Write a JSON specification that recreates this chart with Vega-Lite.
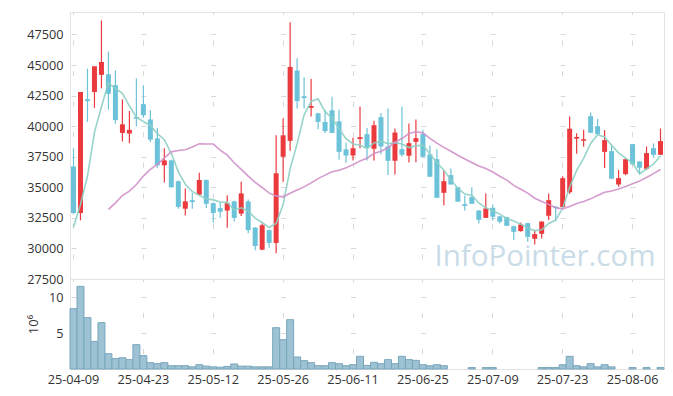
{
  "$schema": "https://vega.github.io/schema/vega-lite/v6.json",
  "padding": {"left": 26, "top": 11, "right": 5, "bottom": 5},
  "background": "white",
  "spacing": 0,
  "bounds": "flush",
  "config": {
    "font": "Open Sans",
    "view": {"stroke": "#e3e3e3"},
    "concat": {"spacing": 0},
    "axis": {"domain": false, "ticks": false, "labelOverlap": false, "labelFont": "Open Sans", "labelFontSize": 12.7, "labelColor": "#333333", "gridColor": "#d8d8d8", "gridWidth": 1, "titleFont": "Open Sans", "titleFontWeight": "normal", "titleColor": "#333333", "titleFontSize": 13},
    "axisY": {"labelOverlap": false},
    "axisQuantitative": {"labelOverlap": false}
  },
  "datasets": {
    "k": [
      {"d":"25-04-09","o":36700,"h":38200,"l":32800,"c":32900,"v":8.38,"m5":31750,"m20":null},
      {"d":"25-04-10","o":32900,"h":42800,"l":32300,"c":42800,"v":11.48,"m5":33600,"m20":null},
      {"d":"25-04-11","o":42200,"h":44700,"l":40350,"c":42050,"v":7.13,"m5":35900,"m20":null},
      {"d":"25-04-14","o":42800,"h":44900,"l":41500,"c":44900,"v":3.84,"m5":39500,"m20":null},
      {"d":"25-04-15","o":44200,"h":48650,"l":43100,"c":45250,"v":6.44,"m5":41590,"m20":null},
      {"d":"25-04-16","o":44250,"h":46100,"l":41350,"c":42650,"v":2.13,"m5":43540,"m20":33190},
      {"d":"25-04-17","o":43350,"h":44550,"l":40200,"c":40500,"v":1.44,"m5":43080,"m20":33730},
      {"d":"25-04-18","o":39450,"h":42200,"l":38750,"c":40150,"v":1.57,"m5":42690,"m20":34330},
      {"d":"25-04-21","o":39400,"h":41250,"l":38600,"c":39700,"v":1.30,"m5":41650,"m20":34690},
      {"d":"25-04-22","o":40750,"h":43900,"l":40000,"c":40620,"v":3.38,"m5":40730,"m20":35230},
      {"d":"25-04-23","o":41800,"h":43350,"l":40700,"c":40900,"v":1.85,"m5":40380,"m20":35920},
      {"d":"25-04-24","o":40550,"h":41300,"l":38700,"c":38900,"v":0.88,"m5":40060,"m20":36460},
      {"d":"25-04-25","o":39000,"h":39850,"l":36600,"c":36800,"v":0.74,"m5":39390,"m20":36870},
      {"d":"25-04-28","o":36800,"h":38200,"l":35400,"c":37200,"v":0.88,"m5":38890,"m20":37410},
      {"d":"25-04-29","o":37200,"h":37250,"l":35000,"c":35000,"v":0.46,"m5":37760,"m20":37900},
      {"d":"25-04-30","o":35500,"h":35550,"l":33250,"c":33400,"v":0.46,"m5":36260,"m20":38010},
      {"d":"25-05-02","o":33250,"h":34900,"l":32700,"c":33850,"v":0.46,"m5":35250,"m20":38070},
      {"d":"25-05-07","o":33950,"h":34550,"l":33250,"c":33800,"v":0.3,"m5":34660,"m20":38290},
      {"d":"25-05-08","o":34400,"h":36200,"l":34350,"c":35600,"v":0.6,"m5":34340,"m20":38560},
      {"d":"25-05-09","o":35600,"h":35650,"l":33300,"c":33650,"v":0.4,"m5":34070,"m20":38538},
      {"d":"25-05-12","o":33700,"h":33750,"l":32100,"c":32900,"v":0.3,"m5":33970,"m20":38538},
      {"d":"25-05-13","o":33300,"h":33800,"l":32500,"c":33000,"v":0.25,"m5":33800,"m20":38048},
      {"d":"25-05-14","o":33100,"h":34350,"l":31700,"c":33700,"v":0.35,"m5":33770,"m20":37628},
      {"d":"25-05-15","o":33850,"h":33900,"l":32200,"c":32500,"v":0.7,"m5":33150,"m20":37008},
      {"d":"25-05-16","o":32850,"h":35450,"l":32650,"c":34500,"v":0.4,"m5":33320,"m20":36470},
      {"d":"25-05-19","o":33850,"h":34000,"l":31250,"c":31500,"v":0.4,"m5":33040,"m20":35913},
      {"d":"25-05-20","o":31700,"h":31750,"l":29850,"c":30200,"v":0.3,"m5":32480,"m20":35398},
      {"d":"25-05-21","o":29900,"h":32050,"l":29850,"c":31900,"v":0.3,"m5":32120,"m20":34985},
      {"d":"25-05-22","o":31500,"h":31550,"l":30050,"c":30450,"v":0.3,"m5":31710,"m20":34523},
      {"d":"25-05-23","o":30450,"h":39250,"l":29600,"c":36150,"v":5.74,"m5":32040,"m20":34298},
      {"d":"25-05-26","o":37500,"h":40650,"l":35450,"c":39250,"v":4.07,"m5":33590,"m20":34215},
      {"d":"25-05-27","o":38800,"h":48500,"l":38000,"c":44850,"v":6.85,"m5":36520,"m20":34513},
      {"d":"25-05-28","o":44550,"h":45550,"l":41450,"c":42050,"v":1.67,"m5":38550,"m20":34775},
      {"d":"25-05-29","o":42450,"h":44000,"l":41450,"c":42300,"v":1.16,"m5":40930,"m20":35033},
      {"d":"25-05-30","o":41500,"h":43850,"l":40800,"c":41650,"v":0.88,"m5":42020,"m20":35363},
      {"d":"25-06-02","o":41050,"h":41100,"l":39750,"c":40350,"v":0.46,"m5":42240,"m20":35710},
      {"d":"25-06-04","o":40350,"h":41350,"l":39450,"c":39600,"v":0.46,"m5":41190,"m20":35998},
      {"d":"25-06-05","o":41300,"h":42400,"l":39450,"c":39450,"v":0.88,"m5":40670,"m20":36278},
      {"d":"25-06-09","o":40400,"h":41350,"l":37250,"c":37900,"v":0.74,"m5":39780,"m20":36393},
      {"d":"25-06-10","o":38100,"h":38650,"l":37000,"c":37600,"v":0.46,"m5":38980,"m20":36590},
      {"d":"25-06-11","o":37600,"h":39050,"l":37200,"c":38200,"v":0.6,"m5":38550,"m20":36855},
      {"d":"25-06-12","o":38950,"h":41600,"l":38200,"c":39100,"v":1.76,"m5":38440,"m20":37158},
      {"d":"25-06-13","o":39350,"h":39850,"l":37200,"c":38200,"v":0.5,"m5":38190,"m20":37383},
      {"d":"25-06-16","o":38150,"h":40450,"l":37200,"c":40080,"v":0.93,"m5":38626,"m20":37762},
      {"d":"25-06-17","o":40740,"h":41070,"l":37700,"c":38340,"v":0.74,"m5":38774,"m20":37954},
      {"d":"25-06-18","o":38340,"h":41450,"l":36000,"c":37170,"v":1.3,"m5":38568,"m20":38237},
      {"d":"25-06-19","o":37170,"h":39820,"l":36050,"c":39480,"v":0.74,"m5":38654,"m20":38701},
      {"d":"25-06-20","o":38120,"h":41620,"l":37500,"c":37660,"v":1.76,"m5":38546,"m20":38989},
      {"d":"25-06-23","o":37580,"h":40220,"l":37030,"c":38610,"v":1.3,"m5":38252,"m20":39397},
      {"d":"25-06-24","o":38720,"h":40540,"l":37060,"c":39020,"v":1.2,"m5":38388,"m20":39541},
      {"d":"25-06-25","o":39350,"h":39700,"l":37450,"c":37500,"v":0.6,"m5":38454,"m20":39453},
      {"d":"25-06-26","o":37690,"h":38420,"l":35860,"c":35860,"v":0.46,"m5":37730,"m20":39004},
      {"d":"25-06-27","o":37300,"h":38120,"l":34140,"c":34140,"v":0.6,"m5":37026,"m20":38608},
      {"d":"25-06-30","o":34550,"h":36400,"l":33520,"c":35500,"v":0.46,"m5":36404,"m20":38266},
      {"d":"25-07-01","o":36000,"h":36540,"l":35230,"c":35230,"v":0,"m5":35646,"m20":37947},
      {"d":"25-07-02","o":35010,"h":35050,"l":33810,"c":33820,"v":0,"m5":34910,"m20":37621},
      {"d":"25-07-03","o":33620,"h":34330,"l":33100,"c":33480,"v":0,"m5":34446,"m20":37318},
      {"d":"25-07-04","o":34200,"h":35010,"l":33650,"c":33650,"v":0.2,"m5":34348,"m20":37028},
      {"d":"25-07-07","o":33100,"h":33150,"l":32040,"c":32340,"v":0,"m5":33716,"m20":36750},
      {"d":"25-07-08","o":32500,"h":34500,"l":32500,"c":33270,"v":0.2,"m5":33324,"m20":36533},
      {"d":"25-07-09","o":33320,"h":33600,"l":32290,"c":32590,"v":0.2,"m5":33078,"m20":36253},
      {"d":"25-07-10","o":32620,"h":32650,"l":32040,"c":32180,"v":0,"m5":32806,"m20":35909},
      {"d":"25-07-11","o":32560,"h":32600,"l":31850,"c":31850,"v":0,"m5":32446,"m20":35592},
      {"d":"25-07-14","o":31820,"h":31850,"l":30680,"c":31360,"v":0,"m5":32250,"m20":35156},
      {"d":"25-07-15","o":31420,"h":32120,"l":31360,"c":31960,"v":0,"m5":31988,"m20":34837},
      {"d":"25-07-16","o":32070,"h":32100,"l":30540,"c":30950,"v":0,"m5":31660,"m20":34526},
      {"d":"25-07-17","o":30790,"h":31500,"l":30330,"c":31170,"v":0,"m5":31458,"m20":34110},
      {"d":"25-07-18","o":31200,"h":32200,"l":30820,"c":32200,"v":0.2,"m5":31528,"m20":33837},
      {"d":"25-07-21","o":32670,"h":34500,"l":32320,"c":33950,"v":0.2,"m5":32046,"m20":33604},
      {"d":"25-07-22","o":33420,"h":33450,"l":32230,"c":33300,"v":0.2,"m5":32324,"m20":33321},
      {"d":"25-07-23","o":33380,"h":35910,"l":33350,"c":35750,"v":0.6,"m5":33284,"m20":33233},
      {"d":"25-07-24","o":34600,"h":40800,"l":34470,"c":39790,"v":1.76,"m5":35008,"m20":33430},
      {"d":"25-07-25","o":38980,"h":39430,"l":37740,"c":39120,"v":0.46,"m5":36378,"m20":33675},
      {"d":"25-07-28","o":38800,"h":39700,"l":38310,"c":38930,"v":0.3,"m5":37360,"m20":33843},
      {"d":"25-07-29","o":40820,"h":41120,"l":39460,"c":39460,"v":0.74,"m5":38582,"m20":34055},
      {"d":"25-07-30","o":40000,"h":40580,"l":39350,"c":39350,"v":0.3,"m5":39302,"m20":34331},
      {"d":"25-07-31","o":37900,"h":39680,"l":36570,"c":38860,"v":0.6,"m5":39116,"m20":34597},
      {"d":"25-08-01","o":37960,"h":38500,"l":35700,"c":35700,"v":0.3,"m5":38446,"m20":34700},
      {"d":"25-08-04","o":35230,"h":36430,"l":35040,"c":35750,"v":0,"m5":37824,"m20":34870},
      {"d":"25-08-05","o":36080,"h":37410,"l":36000,"c":37300,"v":0,"m5":37392,"m20":35072},
      {"d":"25-08-06","o":38530,"h":38550,"l":36870,"c":36870,"v":0.2,"m5":36996,"m20":35286},
      {"d":"25-08-07","o":37110,"h":37150,"l":36130,"c":36600,"v":0,"m5":36088,"m20":35507},
      {"d":"25-08-08","o":36510,"h":38340,"l":36400,"c":37800,"v":0.2,"m5":36508,"m20":35804},
      {"d":"25-08-11","o":38200,"h":38590,"l":37410,"c":37660,"v":0,"m5":36890,"m20":36119},
      {"d":"25-08-12","o":37660,"h":39810,"l":37660,"c":38780,"v":0.2,"m5":37582,"m20":36460}
    ]
  },
  "vconcat": [
    {
      "width": 594,
      "height": 267,
      "data": {"name": "k"},
      "encoding": {
        "x": {
          "field": "d", "type": "ordinal", "sort": null,
          "scale": {"paddingInner": 0, "paddingOuter": 0, "domain": ["25-04-09","25-04-10","25-04-11","25-04-14","25-04-15","25-04-16","25-04-17","25-04-18","25-04-21","25-04-22","25-04-23","25-04-24","25-04-25","25-04-28","25-04-29","25-04-30","25-05-02","25-05-07","25-05-08","25-05-09","25-05-12","25-05-13","25-05-14","25-05-15","25-05-16","25-05-19","25-05-20","25-05-21","25-05-22","25-05-23","25-05-26","25-05-27","25-05-28","25-05-29","25-05-30","25-06-02","25-06-04","25-06-05","25-06-09","25-06-10","25-06-11","25-06-12","25-06-13","25-06-16","25-06-17","25-06-18","25-06-19","25-06-20","25-06-23","25-06-24","25-06-25","25-06-26","25-06-27","25-06-30","25-07-01","25-07-02","25-07-03","25-07-04","25-07-07","25-07-08","25-07-09","25-07-10","25-07-11","25-07-14","25-07-15","25-07-16","25-07-17","25-07-18","25-07-21","25-07-22","25-07-23","25-07-24","25-07-25","25-07-28","25-07-29","25-07-30","25-07-31","25-08-01","25-08-04","25-08-05","25-08-06","25-08-07","25-08-08","25-08-11","25-08-12"]},
          "axis": {
            "values": ["25-04-09","25-04-23","25-05-12","25-05-26","25-06-11","25-06-25","25-07-09","25-07-23","25-08-06"],
            "labels": false, "title": null, "grid": true, "bandPosition": 0.5,
            "labelPadding": 0, "minExtent": 0, "maxExtent": 0,
            "gridDash": [5, 25.56], "gridDashOffset": 2.5
          }
        }
      },
      "layer": [
        {
          "data": {"values": [{"label": "InfoPointer.com"}]},
          "mark": {"type": "text", "font": "Open Sans", "fontSize": 29.5, "color": "#c9dce7", "align": "right", "baseline": "alphabetic", "dx": 2},
          "encoding": {
            "x": {"datum": "25-08-11", "type": "ordinal"},
            "y": {"datum": 28550, "type": "quantitative", "title": null, "scale": {"domain": [27500, 49340], "nice": false, "zero": false},
              "axis": {"values": [27500,30000,32500,35000,37500,40000,42500,45000,47500], "format": "d", "labelOverlap": false, "labelPadding": 7, "grid": true, "gridDash": [5, 64.88], "gridDashOffset": 68.9}},
            "text": {"field": "label"}
          }
        },
        {
          "mark": {"type": "rule", "strokeWidth": 1.2},
          "encoding": {
            "y": {
              "field": "l", "type": "quantitative", "title": null,
              "axis": {"values": [27500,30000,32500,35000,37500,40000,42500,45000,47500], "format": "d", "labelOverlap": false, "labelPadding": 7, "grid": true, "gridDash": [5, 64.88], "gridDashOffset": 68.9}
            },
            "y2": {"field": "h"},
            "color": {"condition": {"test": "datum.c >= datum.o", "value": "#ea3a3e"}, "value": "#6cc2d9"}
          }
        },
        {
          "mark": {"type": "bar", "width": 5},
          "encoding": {
            "y": {"field": "o", "type": "quantitative", "title": null,
              "axis": {"values": [27500,30000,32500,35000,37500,40000,42500,45000,47500], "format": "d", "labelOverlap": false, "labelPadding": 7, "grid": true, "gridDash": [5, 64.88], "gridDashOffset": 68.9}},
            "y2": {"field": "c"},
            "color": {"condition": {"test": "datum.c >= datum.o", "value": "#ea3a3e"}, "value": "#6cc2d9"}
          }
        },
        {
          "mark": {"type": "line", "color": "#8ccfc3", "strokeWidth": 1.6, "opacity": 0.9},
          "encoding": {"y": {"field": "m5", "type": "quantitative", "title": null,
            "axis": {"values": [27500,30000,32500,35000,37500,40000,42500,45000,47500], "format": "d", "labelOverlap": false, "labelPadding": 7, "grid": true, "gridDash": [5, 64.88], "gridDashOffset": 68.9}}}
        },
        {
          "mark": {"type": "line", "color": "#d08fc9", "strokeWidth": 1.6, "opacity": 0.9},
          "encoding": {"y": {"field": "m20", "type": "quantitative", "title": null,
            "axis": {"values": [27500,30000,32500,35000,37500,40000,42500,45000,47500], "format": "d", "labelOverlap": false, "labelPadding": 7, "grid": true, "gridDash": [5, 64.88], "gridDashOffset": 68.9}}}
        }
      ]
    },
    {
      "width": 594,
      "height": 90,
      "data": {"name": "k"},
      "mark": {"type": "bar", "width": {"band": 1}, "color": "#9cc2d3", "stroke": "#7aa7bc", "strokeWidth": 1},
      "encoding": {
        "x": {
          "field": "d", "type": "ordinal", "sort": null,
          "scale": {"paddingInner": 0, "paddingOuter": 0},
          "axis": {
            "values": ["25-04-09","25-04-23","25-05-12","25-05-26","25-06-11","25-06-25","25-07-09","25-07-23","25-08-06"],
            "labelAngle": 0, "labelPadding": 4, "title": null, "grid": true, "bandPosition": 0.5,
            "gridDash": [5, 31], "gridDashOffset": 2.5
          }
        },
        "y": {
          "field": "v", "type": "quantitative", "title": "10⁶",
          "scale": {"domain": [0, 12.5], "nice": false},
          "axis": {"values": [5, 10], "labelPadding": 7, "titlePadding": 8, "grid": true, "gridDash": [5, 64.88], "gridDashOffset": 68.9}
        },
        "strokeOpacity": {"condition": {"test": "datum.v == 0", "value": 0}, "value": 1}
      }
    }
  ]
}
